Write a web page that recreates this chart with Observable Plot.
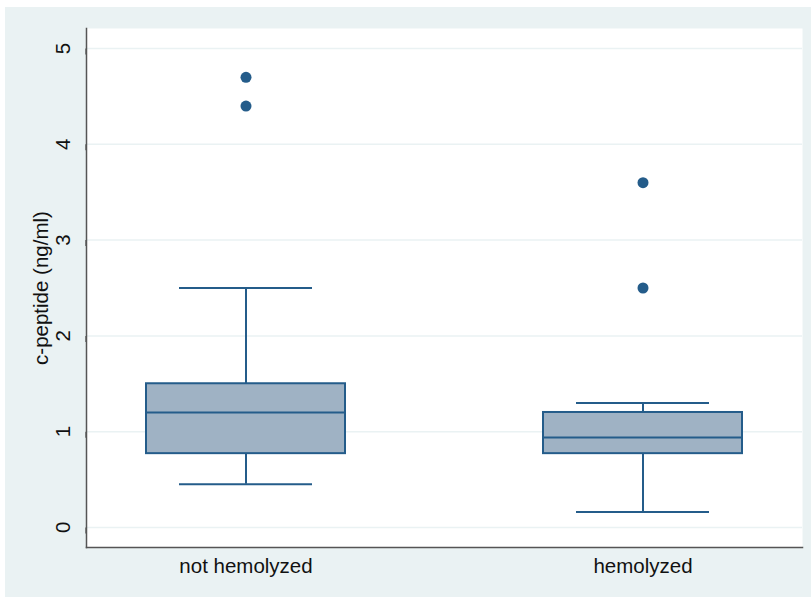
<!DOCTYPE html>
<html>
<head>
<meta charset="utf-8">
<script src="https://cdn.jsdelivr.net/npm/d3@7"></script>
<script src="https://cdn.jsdelivr.net/npm/@observablehq/plot@0.6"></script>
<style>
  html, body { margin: 0; padding: 0; background: #ffffff; }
  #chart { position: absolute; left: 5px; top: 7px; width: 806px; height: 590px; background: #EAF2F3; }
  #chart svg { display: block; background: transparent; }
</style>
</head>
<body>
<div id="chart"></div>
<script>
const categories = ["not hemolyzed", "hemolyzed"];
const q1 = [0.77, 0.77];
const median = [1.2, 0.94];
const q3 = [1.5, 1.2];
const whiskerLow = [0.45, 0.16];
const whiskerHigh = [2.5, 1.3];
const outlierGroup = ["not hemolyzed", "not hemolyzed", "hemolyzed", "hemolyzed"];
const outlierValue = [4.7, 4.4, 3.6, 2.5];
const yTicks = [0, 1, 2, 3, 4, 5];
const yDomain = [-0.21, 5.21];
const yLabel = "c-peptide (ng/ml)";

const stats = categories.map((c, i) => ({cat: c, q1: q1[i], med: median[i], q3: q3[i], lo: whiskerLow[i], hi: whiskerHigh[i]}));
const outliers = outlierGroup.map((g, i) => ({cat: g, v: outlierValue[i]}));

const navy = "#245C8A";
const fill = "#9FB2C4";
const font = "'Liberation Sans', Arial, Helvetica, sans-serif";
const fs = 20.5;

const chart = Plot.plot({
  width: 806,
  height: 590,
  marginLeft: 81,
  marginRight: 9,
  marginTop: 21,
  marginBottom: 50,
  style: {fontFamily: font, fontSize: fs + "px", color: "#111", background: "transparent", overflow: "visible"},
  x: {type: "band", domain: categories, paddingInner: 0.5, paddingOuter: 0.151, label: null},
  y: {domain: yDomain, label: null},
  marks: [
    Plot.frame({fill: "white", stroke: "none"}),
    Plot.gridY(yTicks, {stroke: "#EAF2F3", strokeOpacity: 1, strokeWidth: 1.5}),
    Plot.axisY(yTicks, {tickSize: 6, tickPadding: 17, tickFormat: "d", rotate: -90, textAnchor: "middle", stroke: "#444", strokeWidth: 1.2, fontSize: fs, fill: "#111", label: null}),
    Plot.axisX({tickSize: 0, tickPadding: 11, fontSize: fs, fill: "#111", label: null}),
    Plot.text([yLabel], {frameAnchor: "left", textAnchor: "middle", dx: -45, rotate: -90, fontSize: fs, fill: "#111"}),
    Plot.ruleX(stats, {x: "cat", y1: "lo", y2: "q1", stroke: navy, strokeWidth: 2}),
    Plot.ruleX(stats, {x: "cat", y1: "q3", y2: "hi", stroke: navy, strokeWidth: 2}),
    Plot.tickY(stats, {x: "cat", y: "lo", insetLeft: 33, insetRight: 33, stroke: navy, strokeWidth: 2}),
    Plot.tickY(stats, {x: "cat", y: "hi", insetLeft: 33, insetRight: 33, stroke: navy, strokeWidth: 2}),
    Plot.barY(stats, {x: "cat", y1: "q1", y2: "q3", fill: fill, stroke: navy, strokeWidth: 2}),
    Plot.tickY(stats, {x: "cat", y: "med", stroke: navy, strokeWidth: 2}),
    Plot.dot(outliers, {x: "cat", y: "v", r: 5.5, fill: navy, stroke: "none"}),
    Plot.frame({anchor: "left", stroke: "#555", strokeWidth: 1.5}),
    Plot.frame({anchor: "bottom", stroke: "#555", strokeWidth: 1.5})
  ]
});
document.getElementById("chart").appendChild(chart);
</script>
</body>
</html>
